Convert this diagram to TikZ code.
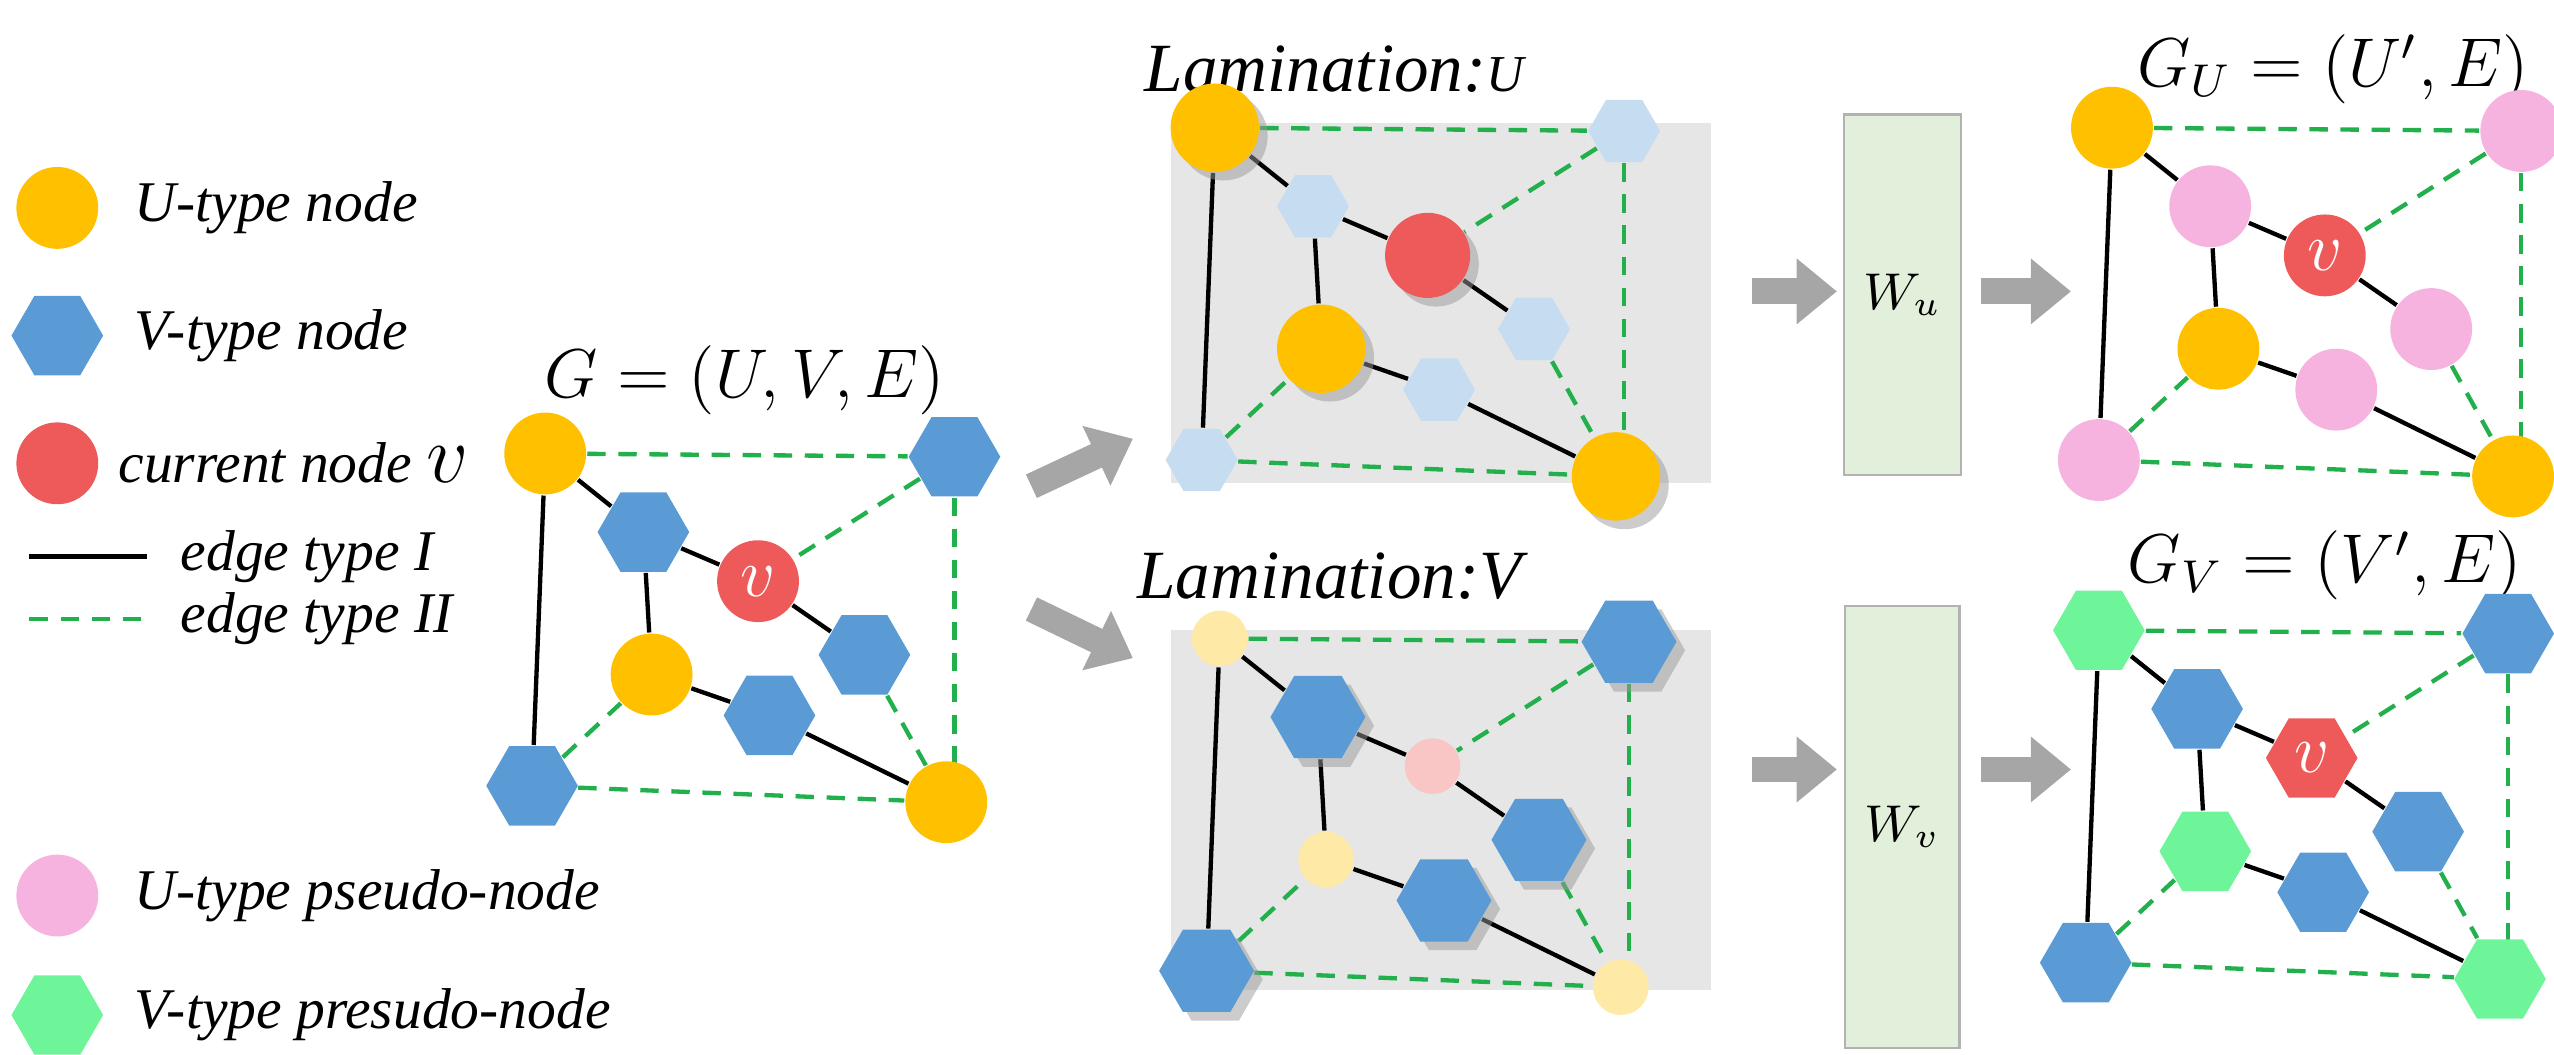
\documentclass[tikz,border=0pt]{standalone}
\usepackage{fontspec}
\setmainfont{Liberation Serif}
\usetikzlibrary{shapes.geometric,shadows,arrows.meta,backgrounds}
\definecolor{cU}{HTML}{FFC000}
\definecolor{cV}{HTML}{5B9BD5}
\definecolor{cR}{HTML}{EE5A5A}
\definecolor{cP}{HTML}{F7B3E0}
\definecolor{cG}{HTML}{6EF59A}
\definecolor{cD}{HTML}{22B04C}
\definecolor{cBox}{HTML}{E2EFDA}
\definecolor{cAr}{HTML}{A6A6A6}
\definecolor{cLam}{HTML}{E6E6E6}
\newcommand{\un}{pt*0.2845}
\tikzset{
 circ/.style={circle,minimum size=50\un,inner sep=0pt},
 hexa/.style={regular polygon,regular polygon sides=6,minimum size=56\un,inner sep=0pt},
 sol/.style={line width=0.75pt},
 das/.style={line width=0.75pt,cD,dash pattern=on 3.2pt off 2.2pt},
 bigarr/.style={-{Triangle[length=7pt,width=11pt]},line width=4.5pt,cAr},
 vt/.style={text=white,font=\fontsize{12}{12}\selectfont\itshape},
 lbl/.style={font=\fontsize{10}{12}\selectfont\itshape,anchor=west},
 ttl/.style={font=\fontsize{12}{14}\selectfont},
 shd/.style={drop shadow={shadow xshift=1.5pt,shadow yshift=-1.5pt,fill=black!40}},
 lam/.style={fill=cLam,minimum width=330\un,minimum height=220\un,inner sep=0pt},
}
\newcommand{\rtext}{}
\newcommand{\drawgraph}[3]{%
 \begin{scope}[shift={(#2,#3)}]
 \node[tU] (#1a) at (0,0) {};
 \node[tV] (#1b) at (250,2) {};
 \node[tV] (#1c) at (60,48) {};
 \node[tR] (#1r) at (130,78) {\rtext};
 \node[tV] (#1d) at (195,123) {};
 \node[tU] (#1e) at (65,135) {};
 \node[tV] (#1f) at (137,160) {};
 \node[tV] (#1g) at (-8,203) {};
 \node[tU] (#1h) at (245,213) {};
 \begin{scope}[on background layer]
 \draw[sol] (#1a)--(#1g); \draw[sol] (#1a)--(#1c); \draw[sol] (#1c)--(#1r);
 \draw[sol] (#1r)--(#1d); \draw[sol] (#1c)--(#1e); \draw[sol] (#1e)--(#1f);
 \draw[sol] (#1f)--(#1h);
 \draw[das] (#1a)--(#1b); \draw[das] (#1b)--(#1r); \draw[das] (#1b.south)--(#1b.south|-#1h);
 \draw[das] (#1g)--(#1h); \draw[das] (#1g)--(#1e); \draw[das] (#1d)--(#1h);
 \end{scope}
 \end{scope}}
\begin{document}
\begin{tikzpicture}[x=0.1mm,y=-0.1mm]
\useasboundingbox (0,0) rectangle (1560,644);
\begin{scope}[on background layer]
\node[lam] (bU) at (880,185) {};
\node[lam] (bV) at (880,495) {};
\end{scope}
% legend
\node[circ,fill=cU] (l1) at (35,127) {};
\node[lbl] (t1) at (70,127) {U-type node};
\node[hexa,fill=cV] (l2) at (35,205) {};
\node[lbl] (t2) at (70,205) {V-type node};
\node[circ,fill=cR] (l3) at (35,283) {};
\node[lbl] (t3) at (60,283) {current node \fontsize{15}{15}\selectfont$v$};
\coordinate (l4a) at (18,340); \coordinate (l4b) at (90,340);
\draw[sol] (l4a)--(l4b);
\node[lbl] (t4) at (98,340) {edge type I};
\coordinate (l5a) at (18,378); \coordinate (l5b) at (90,378);
\draw[das] (l5a)--(l5b);
\node[lbl] (t5) at (98,378) {edge type II};
\node[circ,fill=cP] (l6) at (35,547) {};
\node[lbl] (t6) at (70,547) {U-type pseudo-node};
\node[hexa,fill=cG] (l7) at (35,620) {};
\node[lbl] (t7) at (70,620) {V-type presudo-node};
% G
\node[ttl] (tG) at (455,232) {$G=(U,V,E)$};
\renewcommand{\rtext}{$v$}
\tikzset{tU/.style={circ,fill=cU},tV/.style={hexa,fill=cV},tR/.style={circ,fill=cR,vt}}
\drawgraph{g}{333}{277}
% lamination U
\node[font=\fontsize{12}{14}\selectfont\itshape] (tLU) at (815,42) {Lamination:\fontsize{9}{9}\selectfont U};
\renewcommand{\rtext}{}
\tikzset{tU/.style={circ,fill=cU,minimum size=54\un,shd},tV/.style={hexa,fill=cV!35!white,minimum size=44\un},tR/.style={circ,fill=cR,minimum size=52\un,shd}}
\drawgraph{u}{742}{78}
% lamination V
\node[font=\fontsize{12}{14}\selectfont\itshape] (tLV) at (812,352) {Lamination:V};
\tikzset{tU/.style={circ,fill=cU!35!white,minimum size=34\un},tV/.style={hexa,fill=cV,minimum size=58\un,shd},tR/.style={circ,fill=cR!35!white,minimum size=34\un}}
\drawgraph{w}{745}{390}
% boxes
\node[fill=cBox,draw=gray!60,minimum width=65\un,minimum height=220\un,font=\small] (Wu) at (1162,180) {$W_u$};
\node[fill=cBox,draw=gray!60,minimum width=65\un,minimum height=270\un,font=\small] (Wv) at (1162,505) {$W_v$};
% G_U, G_V
\node[ttl] (tGU) at (1425,42) {$G_U=(U',E)$};
\node[ttl] (tGV) at (1420,345) {$G_V=(V',E)$};
\renewcommand{\rtext}{$v$}
\tikzset{tU/.style={circ,fill=cU,minimum size=50\un},tV/.style={circ,fill=cP,minimum size=50\un},tR/.style={circ,fill=cR,vt}}
\drawgraph{p}{1290}{78}
\tikzset{tU/.style={hexa,fill=cG},tV/.style={hexa,fill=cV},tR/.style={hexa,fill=cR,vt}}
\drawgraph{q}{1282}{385}
% arrows
\coordinate (a1s) at (630,297); \coordinate (a1e) at (692,268);
\coordinate (a2s) at (630,372); \coordinate (a2e) at (692,402);
\draw[bigarr] (a1s)--(a1e); \draw[bigarr] (a2s)--(a2e);
\coordinate (a3s) at (1070,178); \coordinate (a3e) at (1122,178); \draw[bigarr] (a3s)--(a3e);
\coordinate (a4s) at (1210,178); \coordinate (a4e) at (1265,178); \draw[bigarr] (a4s)--(a4e);
\coordinate (a5s) at (1070,470); \coordinate (a5e) at (1122,470); \draw[bigarr] (a5s)--(a5e);
\coordinate (a6s) at (1210,470); \coordinate (a6e) at (1265,470); \draw[bigarr] (a6s)--(a6e);
\end{tikzpicture}
\end{document}
